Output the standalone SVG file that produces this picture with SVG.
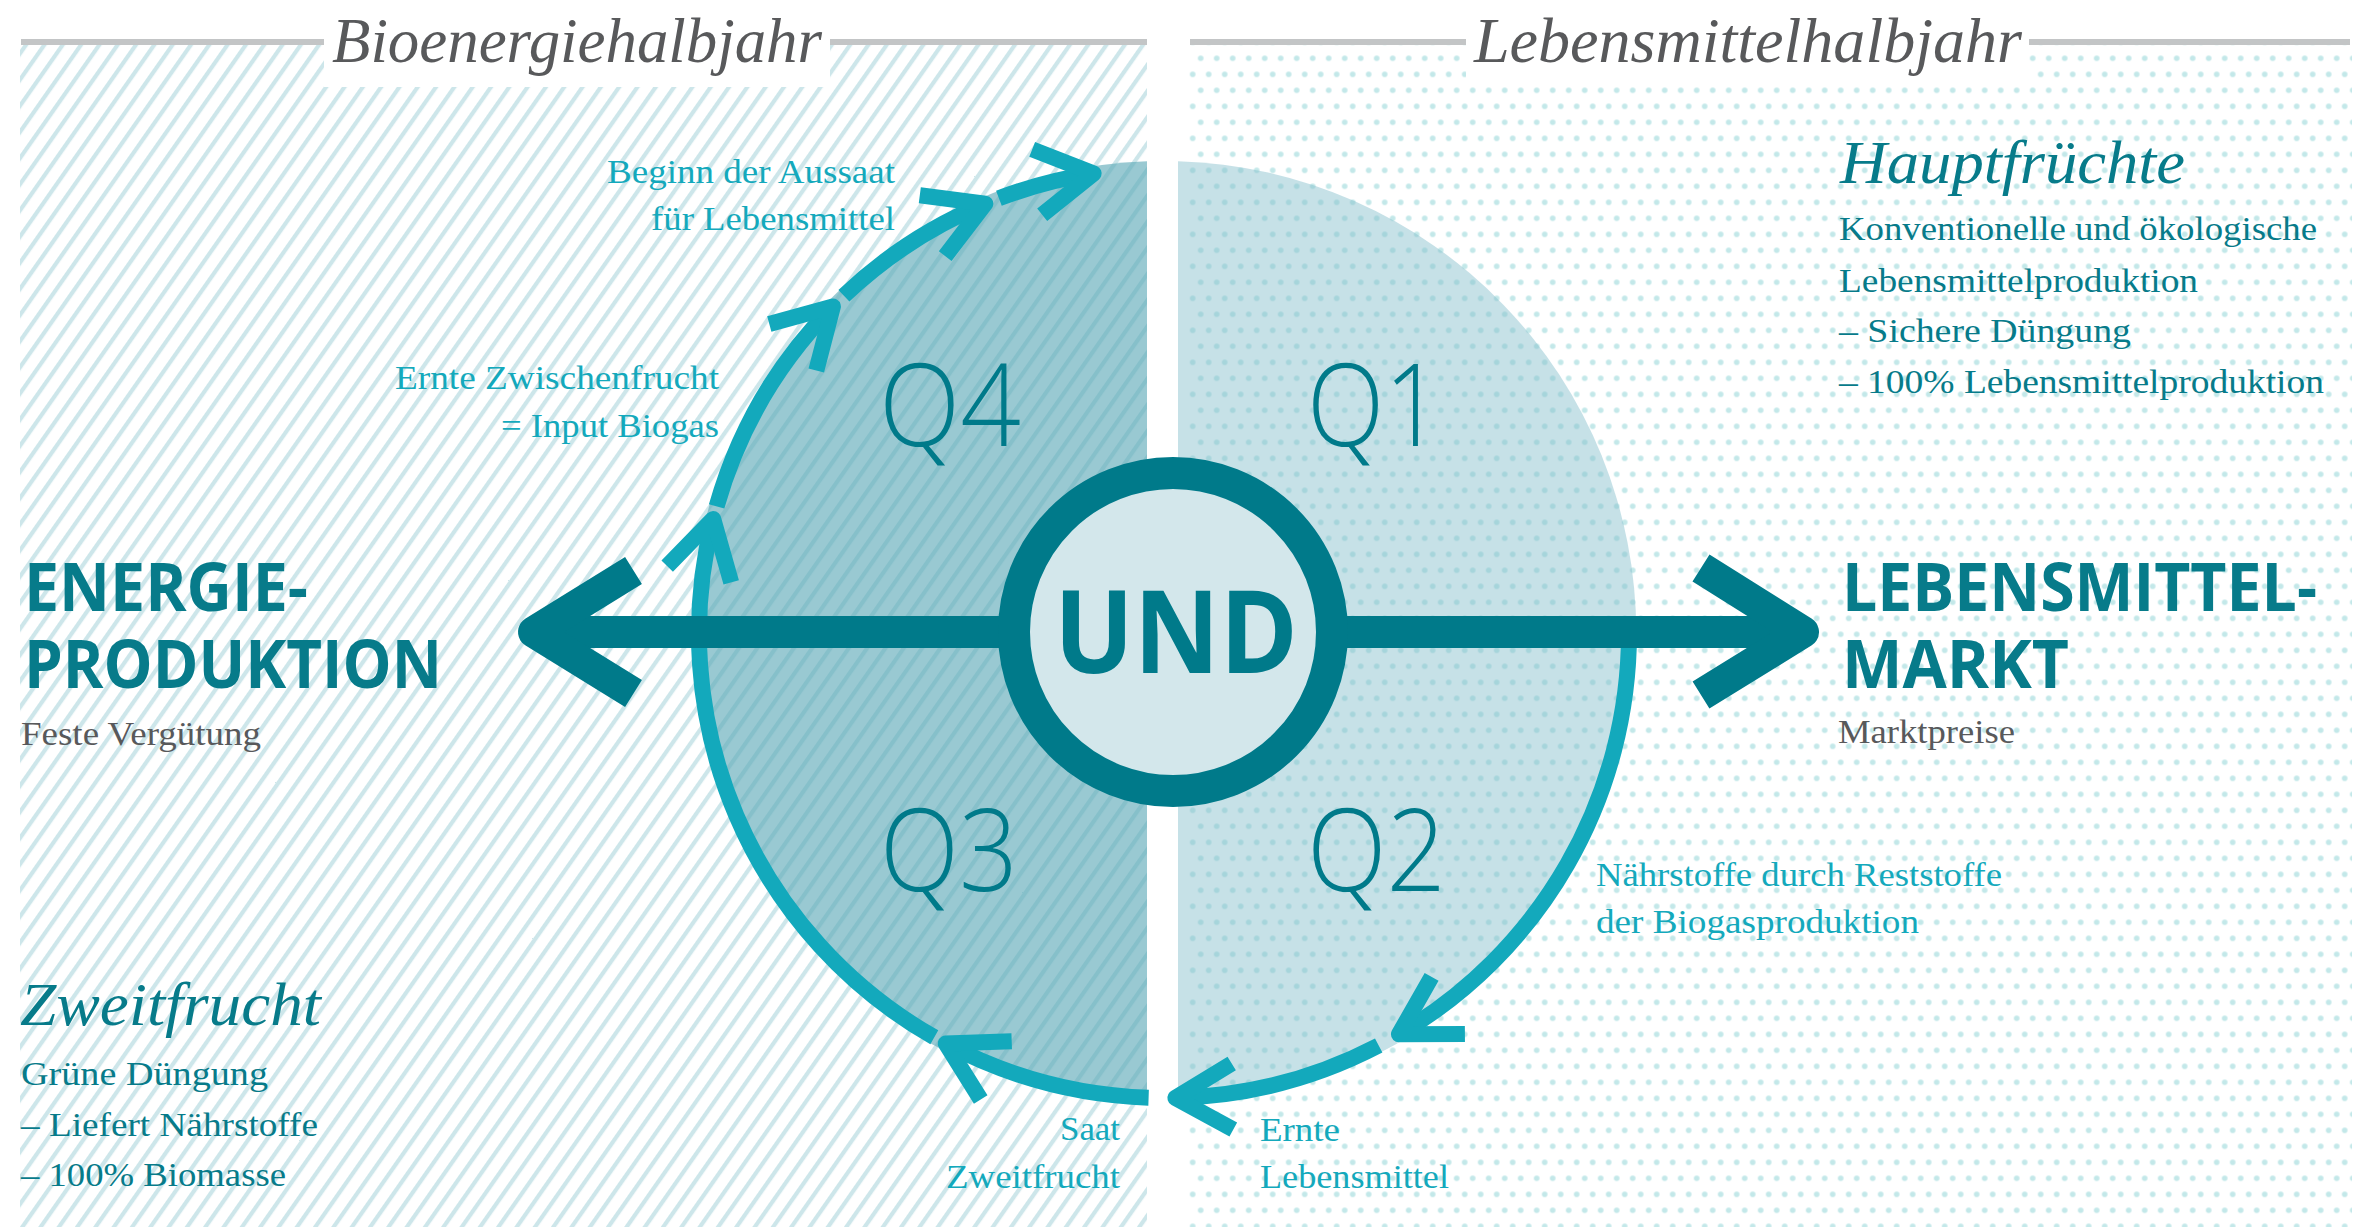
<svg xmlns="http://www.w3.org/2000/svg" width="2367" height="1231" viewBox="0 0 2367 1231">
<defs>
<pattern id="stripes" patternUnits="userSpaceOnUse" width="15" height="15" patternTransform="rotate(35)">
<rect x="0" y="0" width="4.2" height="15" fill="#cde6ea"/>
</pattern>
<pattern id="dots" patternUnits="userSpaceOnUse" x="0.7" y="2.3" width="16" height="32">
<circle cx="8" cy="8" r="2.8" fill="#c3e8e9"/>
<circle cx="0" cy="24" r="2.8" fill="#c3e8e9"/>
<circle cx="16" cy="24" r="2.8" fill="#c3e8e9"/>
</pattern>
<style>
.serif{font-family:"Liberation Serif","Times New Roman",serif;font-size:33px}
.ital{font-family:"Liberation Serif","Times New Roman",serif;font-style:italic}
.bold{font-family:"Open Sans","Liberation Sans",sans-serif;font-weight:700}
.q{font-family:"Open Sans","Liberation Sans",sans-serif;font-weight:300;font-size:115px;fill:#007a8a}
.cyan{fill:#14a9bc}
.teal{fill:#077b8a}
.grey{fill:#58595b}
.hline{fill:#c3c5c6}
.ring{fill:none;stroke:#13a9bc;stroke-width:16}
.chev{fill:none;stroke:#13a9bc;stroke-width:16;stroke-linejoin:round}
.big{fill:none;stroke:#007a8a;stroke-width:32;stroke-linejoin:round}
</style>
</defs>
<rect width="2367" height="1231" fill="#ffffff"/>
<g id="background">
<rect x="20" y="45" width="1127" height="1182" fill="url(#stripes)"/>
<rect x="1188" y="45" width="1164" height="1182" fill="url(#dots)"/>
<rect x="324" y="0" width="506" height="87" fill="#ffffff"/>
<rect x="1466" y="0" width="563" height="79" fill="#ffffff"/>
<rect class="hline" x="21" y="39" width="303" height="6"/>
<rect class="hline" x="830" y="39" width="317" height="6"/>
<rect class="hline" x="1190" y="39" width="276" height="6"/>
<rect class="hline" x="2029" y="39" width="321" height="6"/>
</g>
<g id="disc">
<path d="M1147 161.3 A472 472 0 0 0 1147 1104.7 Z" fill="#5aa8b6" fill-opacity="0.62"/>
<path d="M1178 161.2 A472 472 0 0 1 1178 1104.8 Z" fill="#86c0cb" fill-opacity="0.47"/>
</g>
<g id="quadrants">
<g id="q4"><text class="q" x="879" y="446" textLength="142" lengthAdjust="spacingAndGlyphs">Q4</text></g>
<g id="q1"><text class="q" x="1307" y="446" textLength="135" lengthAdjust="spacingAndGlyphs">Q1</text></g>
<g id="q3"><text class="q" x="880" y="891" textLength="138" lengthAdjust="spacingAndGlyphs">Q3</text></g>
<g id="q2"><text class="q" x="1307" y="891" textLength="139" lengthAdjust="spacingAndGlyphs">Q2</text></g>
</g>
<g id="connectors">
<path class="ring" d="M1629 633 A465 465 0 0 1 1398.9 1034.3"/>
<path class="chev" d="M1464.9 1033.9 L1398.9 1034.3 L1431.6 976.9"/>
<path class="ring" d="M1378.7 1045.5 A465 465 0 0 1 1175.4 1097.9"/>
<path class="chev" d="M1233.3 1129.5 L1175.4 1097.9 L1231.7 1063.5"/>
<path class="ring" d="M1148.6 1097.7 A465 465 0 0 1 945.7 1043.5"/>
<path class="chev" d="M980.7 1099.5 L945.7 1043.5 L1011.7 1041.2"/>
<path class="ring" d="M934.3 1037.3 A465 465 0 0 1 713.2 518.9"/>
<path class="chev" d="M667.2 566.2 L713.2 518.9 L731.2 582.4"/>
<path class="ring" d="M716.6 506.4 A465 465 0 0 1 832.9 306.5"/>
<path class="chev" d="M769.3 324 L832.9 306.5 L816.3 370.4"/>
<path class="ring" d="M843.9 295.7 A465 465 0 0 1 985.3 203.7"/>
<path class="chev" d="M919.8 195.2 L985.3 203.7 L945.2 256.1"/>
<path class="ring" d="M998.9 198.3 A465 465 0 0 1 1093.7 173.4"/>
<path class="chev" d="M1032.2 149.4 L1093.7 173.4 L1042.2 214.7"/>
<path class="big" d="M534 632 H1803"/>
<path class="big" d="M633.5 570.5 L534 632 L633.5 693.5"/>
<path class="big" d="M1701 568 L1803 632 L1701 695"/>
</g>
<g id="und">
<circle cx="1173" cy="632" r="159" fill="#d3e7eb" stroke="#007a8a" stroke-width="32"/>
<text class="bold" x="1176" y="673" font-size="115" text-anchor="middle" fill="#007a8a" textLength="244" lengthAdjust="spacingAndGlyphs">UND</text>
</g>
<g id="header-bioenergie"><text class="ital grey" x="332" y="62" font-size="64" textLength="490" lengthAdjust="spacingAndGlyphs">Bioenergiehalbjahr</text></g>
<g id="header-lebensmittel"><text class="ital grey" x="1474" y="62" font-size="64" textLength="548" lengthAdjust="spacingAndGlyphs">Lebensmittelhalbjahr</text></g>
<g id="label-aussaat">
<text class="serif cyan" x="895" y="183" text-anchor="end" textLength="288" lengthAdjust="spacingAndGlyphs">Beginn der Aussaat</text>
<text class="serif cyan" x="895" y="230" text-anchor="end" textLength="244" lengthAdjust="spacingAndGlyphs">für Lebensmittel</text>
</g>
<g id="label-zwischenfrucht">
<text class="serif cyan" x="719" y="389" text-anchor="end" textLength="324" lengthAdjust="spacingAndGlyphs">Ernte Zwischenfrucht</text>
<text class="serif cyan" x="719" y="437" text-anchor="end" textLength="218" lengthAdjust="spacingAndGlyphs">= Input Biogas</text>
</g>
<g id="energieproduktion">
<text class="bold teal" x="24" y="611" font-size="66" textLength="284" lengthAdjust="spacingAndGlyphs">ENERGIE-</text>
<text class="bold teal" x="24" y="688" font-size="66" textLength="418" lengthAdjust="spacingAndGlyphs">PRODUKTION</text>
<text class="serif grey" x="21" y="745" font-size="34" textLength="240" lengthAdjust="spacingAndGlyphs">Feste Vergütung</text>
</g>
<g id="zweitfrucht">
<text class="ital teal" x="20" y="1025" font-size="62" textLength="301" lengthAdjust="spacingAndGlyphs">Zweitfrucht</text>
<text class="serif teal" x="21" y="1085" textLength="247" lengthAdjust="spacingAndGlyphs">Grüne Düngung</text>
<text class="serif teal" x="21" y="1136" textLength="297" lengthAdjust="spacingAndGlyphs">– Liefert Nährstoffe</text>
<text class="serif teal" x="21" y="1186" textLength="265" lengthAdjust="spacingAndGlyphs">– 100% Biomasse</text>
</g>
<g id="label-saat">
<text class="serif cyan" x="1120" y="1140" text-anchor="end" textLength="60" lengthAdjust="spacingAndGlyphs">Saat</text>
<text class="serif cyan" x="1120" y="1188" text-anchor="end" textLength="174" lengthAdjust="spacingAndGlyphs">Zweitfrucht</text>
</g>
<g id="hauptfruechte">
<text class="ital teal" x="1840" y="183" font-size="62" textLength="345" lengthAdjust="spacingAndGlyphs">Hauptfrüchte</text>
<text class="serif teal" x="1839" y="240" textLength="478" lengthAdjust="spacingAndGlyphs">Konventionelle und ökologische</text>
<text class="serif teal" x="1839" y="292" textLength="359" lengthAdjust="spacingAndGlyphs">Lebensmittelproduktion</text>
<text class="serif teal" x="1839" y="342" textLength="292" lengthAdjust="spacingAndGlyphs">– Sichere Düngung</text>
<text class="serif teal" x="1839" y="393" textLength="485" lengthAdjust="spacingAndGlyphs">– 100% Lebensmittelproduktion</text>
</g>
<g id="lebensmittelmarkt">
<text class="bold teal" x="1842" y="611" font-size="66" textLength="475" lengthAdjust="spacingAndGlyphs">LEBENSMITTEL-</text>
<text class="bold teal" x="1842" y="688" font-size="66" textLength="227" lengthAdjust="spacingAndGlyphs">MARKT</text>
<text class="serif grey" x="1838" y="743" font-size="34" textLength="177" lengthAdjust="spacingAndGlyphs">Marktpreise</text>
</g>
<g id="label-naehrstoffe">
<text class="serif cyan" x="1596" y="886" textLength="406" lengthAdjust="spacingAndGlyphs">Nährstoffe durch Reststoffe</text>
<text class="serif cyan" x="1596" y="933" textLength="323" lengthAdjust="spacingAndGlyphs">der Biogasproduktion</text>
</g>
<g id="label-ernte">
<text class="serif cyan" x="1260" y="1141" textLength="80" lengthAdjust="spacingAndGlyphs">Ernte</text>
<text class="serif cyan" x="1260" y="1188" textLength="189" lengthAdjust="spacingAndGlyphs">Lebensmittel</text>
</g>
</svg>
